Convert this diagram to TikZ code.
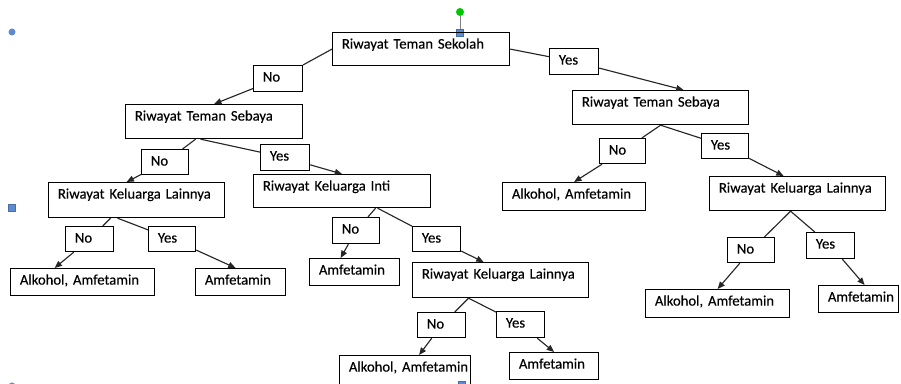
\documentclass[tikz,border=0pt]{standalone}
\usepackage{fontspec}
\setmainfont{Carlito}[FakeBold=0.3]
\usetikzlibrary{calc,arrows.meta}
\definecolor{handleblue}{HTML}{5B8BD0}
\definecolor{handlegreen}{HTML}{00C800}
\hyphenpenalty=10000
\exhyphenpenalty=10000
\begin{document}
\begin{tikzpicture}[x=0.75pt,y=-0.75pt,
    font=\fontsize{11pt}{13pt}\selectfont,
    tbox/.style 2 args={draw, line width=0.9pt, anchor=north west,
        inner xsep=7pt, inner ysep=0pt, text height=12pt,
        text width=#1*0.75pt-14pt, text depth=#2*0.75pt-12pt, align=left},
    link/.style={line width=0.85pt, draw=black!85},
    arr/.style={link, -{Triangle[length=5.5pt,width=4.5pt]}}]
\useasboundingbox (0,0) rectangle (901,384);
% selection handles
\draw[gray, line width=0.6pt] (460,16) -- (460,30);
\fill[handlegreen] (460,12) circle (4);
\filldraw[fill=handleblue, draw=handleblue!80!black, line width=0.3pt] (456.5,29.5) rectangle (463.5,36.5);
\fill[handleblue] (12,32) circle (3.5);
\filldraw[fill=handleblue, draw=handleblue!80!black, line width=0.3pt] (8.5,204.5) rectangle (15.5,211.5);
\fill[handleblue] (12,386) circle (3.5);
\filldraw[fill=handleblue, draw=handleblue!80!black, line width=0.3pt] (458.5,381) rectangle (465.5,388);
% boxes
\node[tbox={177}{33}] (root) at (332,32) {Riwayat Teman Sekolah};
\node[tbox={49}{26}] (noA) at (253,65) {No};
\node[tbox={49}{26}] (yesA) at (549,48) {Yes};
\node[tbox={177}{34}] (tsL) at (125,104) {Riwayat Teman Sebaya};
\node[tbox={176}{34}] (tsR) at (572,90) {Riwayat Teman Sebaya};
\node[tbox={47}{25}] (noB) at (141,149) {No};
\node[tbox={49}{26}] (yesB) at (260,144) {Yes};
\node[tbox={176}{35}] (klL) at (48,182) {Riwayat Keluarga Lainnya};
\node[tbox={177}{33}] (kInti) at (253,174) {Riwayat Keluarga Inti};
\node[tbox={48}{25}] (noC) at (65,226) {No};
\node[tbox={47}{25}] (yesC) at (148,226) {Yes};
\node[tbox={144}{27}] (leafA) at (10,268) {Alkohol,~Amfetamin};
\node[tbox={90}{27}] (leafB) at (195,268) {Amfetamin};
\node[tbox={47}{26}] (noD) at (332,217) {No};
\node[tbox={48}{25}] (yesD) at (412,226) {Yes};
\node[tbox={90}{27}] (leafC) at (309,258) {Amfetamin};
\node[tbox={176}{35}] (klM) at (412,262) {Riwayat Keluarga Lainnya};
\node[tbox={48}{25}] (noE) at (417,312) {No};
\node[tbox={48}{26}] (yesE) at (496,311) {Yes};
\node[tbox={131}{29}] (leafD) at (339,355) {Alkohol,~Amfetamin};
\node[tbox={89}{27}] (leafH) at (509,352) {Amfetamin};
\node[tbox={46}{25}] (noR1) at (599,138) {No};
\node[tbox={47}{25}] (yesR1) at (701,133) {Yes};
\node[tbox={143}{28}] (leafE) at (502,182) {Alkohol,~Amfetamin};
\node[tbox={176}{34}] (klR) at (709,176) {Riwayat Keluarga Lainnya};
\node[tbox={47}{25}] (noR2) at (727,237) {No};
\node[tbox={48}{26}] (yesR2) at (806,232) {Yes};
\node[tbox={144}{28}] (leafF) at (645,289) {Alkohol,~Amfetamin};
\node[tbox={80}{27}] (leafG) at (818,285) {Amfetamin};
% branches
\draw[link] (root.west) -- (noA);
\draw[arr] (noA) -- (tsL.north);
\draw[link] (root.east) -- (yesA);
\draw[arr] (yesA) -- ($(tsR.north)+(23,0)$);
\draw[link] ($(tsL.south)+(-18.5,0)$) -- (noB);
\draw[arr] (noB) -- ($(klL.north)+(-10,0)$);
\draw[link] ($(tsL.south)+(-13.5,0)$) -- (yesB);
\draw[arr] (yesB) -- (kInti.north);
\draw[link] ($(klL.south)+(-26,0)$) -- (noC);
\draw[arr] (noC) -- ($(leafA.north)+(-28,0)$);
\draw[link] ($(klL.south)+(-19,0)$) -- (yesC);
\draw[arr] (yesC) -- ($(leafB.north)+(-5,0)$);
\draw[link] ($(kInti.south)+(33.5,0)$) -- (noD);
\draw[arr] (noD) -- ($(leafC.north)+(-14,0)$);
\draw[link] ($(kInti.south)+(35.5,0)$) -- (yesD);
\draw[arr] (yesD) -- ($(klM.north)+(-17,0)$);
\draw[link] ($(klM.south)+(-32,0)$) -- (noE);
\draw[arr] (noE) -- ($(leafD.north)+(14,0)$);
\draw[link] ($(klM.south)+(-32,0)$) -- (yesE);
\draw[arr] (yesE) -- (leafH.north);
\draw[link] (tsR.south) -- (noR1);
\draw[arr] (noR1) -- (leafE.north);
\draw[link] (tsR.south) -- (yesR1);
\draw[arr] (yesR1) -- ($(klR.north)+(-14,0)$);
\draw[link] ($(klR.south)+(-7,0)$) -- (noR2);
\draw[arr] (noR2) -- (leafF.north);
\draw[link] ($(klR.south)+(-7,0)$) -- (yesR2);
\draw[arr] (yesR2) -- ($(leafG.north)+(6,0)$);
\end{tikzpicture}
\end{document}
